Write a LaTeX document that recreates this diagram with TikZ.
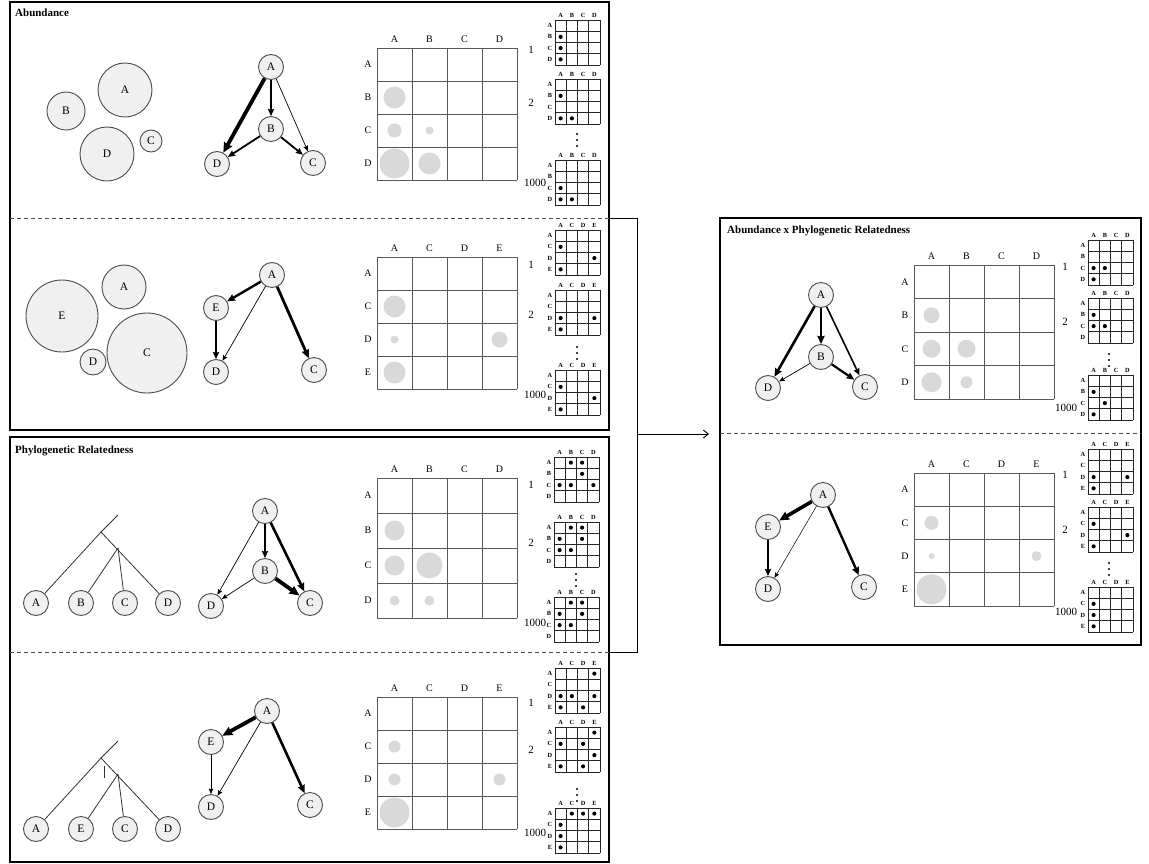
\documentclass[tikz,border=0pt]{standalone}
\usepackage{fontspec}
\setmainfont{Liberation Serif}
\usetikzlibrary{arrows.meta}
\definecolor{nfill}{HTML}{F0F0F0}
\definecolor{ndraw}{HTML}{4D4D4D}
\definecolor{bubc}{HTML}{D9D9D9}
\tikzset{
 gnode/.style={circle,draw=ndraw,fill=nfill,line width=0.9pt,minimum size=25pt,inner sep=0pt,font=\fontsize{11.5}{11.5}\selectfont},
 abn/.style={circle,draw=ndraw,fill=nfill,line width=0.9pt,inner sep=0pt,font=\fontsize{11.5}{11.5}\selectfont},
 tip/.tip={Stealth[length=4.5pt 1.4,width=3.6pt 1.4,inset=0.8pt]},
 ew/.style={-tip,line width=#1},
 frame/.style={line width=1.4pt,draw=black},
 sep/.style={dashed,draw=black!70,line width=0.7pt,dash pattern=on 4pt off 3pt},
 gridl/.style={draw=black!65,line width=0.7pt},
 hdr/.style={font=\fontsize{10}{10}\selectfont,inner sep=0pt},
 shdr/.style={font=\fontsize{6.3}{6.3}\selectfont\bfseries,inner sep=0pt},
 sgrid/.style={draw=black!85,line width=0.7pt},
 ttl/.style={font=\fontsize{11}{11}\selectfont\bfseries,anchor=west,inner sep=0pt},
 numl/.style={font=\fontsize{11}{11}\selectfont,inner sep=0pt},
 tree/.style={draw=black!80,line width=0.8pt},
}
% big matrix: x0, y0, row height, labels, circles col/row/r
\newcommand\bigmat[5]{%
 \foreach \i in {0,...,4}{%
   \draw[gridl] (#1+\i*35,#2) -- (#1+\i*35,#2+4*#3);
   \draw[gridl] (#1,#2+\i*#3) -- (#1+140,#2+\i*#3);}
 \foreach \l [count=\k from 0] in {#4}{%
   \node[hdr] at (#1+17.5+\k*35,#2-9) {\l};
   \node[hdr] at (#1-9,#2+#3/2+\k*#3) {\l};}
 \foreach \c/\r/\rad in {#5}
   \fill[bubc] (#1+17.5+\c*35,#2+#3/2+\r*#3) circle[radius=\rad pt];
}
% small matrix: x0, y0, labels, dots col/row
\newcommand\smallmat[4]{%
 \foreach \i in {0,...,4}{%
   \draw[sgrid] (#1+\i*11.25,#2) -- (#1+\i*11.25,#2+45);
   \draw[sgrid] (#1,#2+\i*11.25) -- (#1+45,#2+\i*11.25);}
 \foreach \l [count=\k from 0] in {#3}{%
   \node[shdr] at (#1+5.6+\k*11.25,#2-4.5) {\l};
   \node[shdr] at (#1-5,#2+5.6+\k*11.25) {\l};}
 \foreach \c/\r in {#4}
   \fill (#1+5.6+\c*11.25,#2+5.6+\r*11.25) circle[radius=2.1pt];
}
\newcommand\vdotsat[2]{%
 \foreach \d in {0,6,12} \fill (#1,#2+\d) circle[radius=1.1pt];}
\begin{document}
\begin{tikzpicture}[x=1pt,y=-1pt]
\useasboundingbox (0,0) rectangle (1149,864);
\fill[white] (0,0) rectangle (1149,864);
% ---------- frames
\draw[frame] (10,2) rectangle (609,430);
\draw[frame] (10,437) rectangle (609,862);
\draw[frame] (720,218) rectangle (1141,645);
\draw[sep] (10,218) -- (609,218);
\draw[sep] (10,652) -- (609,652);
\draw[sep] (720,433) -- (1141,433);
\coordinate (b1) at (609,218);
\coordinate (b2) at (637,218);
\coordinate (b3) at (637,652);
\coordinate (b4) at (609,652);
\coordinate (bm) at (637,434);
\coordinate (bt) at (709,434);
\draw[line width=1pt] (b1) -- (b2) -- (b3) -- (b4);
\draw[line width=0.9pt,-{Straight Barb[length=5pt,width=8pt]}] (bm) -- (bt);
% ---------- titles
\node[ttl] (t1) at (15,13) {Abundance};
\node[ttl] (t2) at (15,451) {Phylogenetic Relatedness};
\node[ttl] (t3) at (727,231) {Abundance x Phylogenetic Relatedness};
% ================= Panel 1
\node[abn,minimum size=54pt] (a1A) at (125,90) {A};
\node[abn,minimum size=38pt] (a1B) at (66,111) {B};
\node[abn,minimum size=54pt] (a1D) at (107,154) {D};
\node[abn,minimum size=22pt] (a1C) at (151,141) {C};
\node[gnode] (p1A) at (271,67) {A};
\node[gnode] (p1B) at (271,129) {B};
\node[gnode] (p1D) at (217,164) {D};
\node[gnode] (p1C) at (313,163) {C};
\draw[ew=3.8pt] (p1A) -- (p1D);
\draw[ew=1.8pt] (p1A) -- (p1B);
\draw[ew=0.7pt] (p1A) -- (p1C);
\draw[ew=1.8pt] (p1B) -- (p1D);
\draw[ew=1.8pt] (p1B) -- (p1C);
\bigmat{377}{48}{33}{A,B,C,D}{0/1/11,0/2/7,1/2/4,0/3/15,1/3/11}
\smallmat{555}{20}{A,B,C,D}{0/1,0/2,0/3}
\smallmat{555}{79}{A,B,C,D}{0/1,0/3,1/3}
\smallmat{555}{160}{A,B,C,D}{0/2,0/3,1/3}
\node[numl] (n11) at (531,50) {1};
\node[numl] (n12) at (531,103) {2};
\node[numl] (n13) at (535,183) {1000};
\vdotsat{577}{134}
% ================= Panel 2
\node[abn,minimum size=44pt] (a2A) at (124,287) {A};
\node[abn,minimum size=72pt] (a2E) at (62,316) {E};
\node[abn,minimum size=26pt] (a2D) at (93,362) {D};
\node[abn,minimum size=80pt] (a2C) at (147,353) {C};
\node[gnode] (p2A) at (272,275) {A};
\node[gnode] (p2E) at (216,308) {E};
\node[gnode] (p2D) at (216,372) {D};
\node[gnode] (p2C) at (314,370) {C};
\draw[ew=2.4pt] (p2A) -- (p2E);
\draw[ew=0.7pt] (p2A) -- (p2D);
\draw[ew=2.8pt] (p2A) -- (p2C);
\draw[ew=1.8pt] (p2E) -- (p2D);
\bigmat{377}{257}{33}{A,C,D,E}{0/1/11,0/2/4,3/2/8,0/3/11}
\smallmat{555}{230}{A,C,D,E}{0/1,3/2,0/3}
\smallmat{555}{290}{A,C,D,E}{0/2,3/2,0/3}
\smallmat{555}{370}{A,C,D,E}{0/1,3/2,0/3}
\node[numl] (n21) at (531,265) {1};
\node[numl] (n22) at (531,315) {2};
\node[numl] (n23) at (535,395) {1000};
\vdotsat{577}{347}
% ================= Panel 3
\node[gnode] (t3A) at (36,603) {A};
\node[gnode] (t3B) at (81,603) {B};
\node[gnode] (t3C) at (125,603) {C};
\node[gnode] (t3D) at (168,603) {D};
\coordinate (r3top) at (118,515);
\coordinate (r3) at (101,532);
\coordinate (r3b) at (118,548);
\draw[tree] (r3top) -- (r3);
\draw[tree] (r3) -- (t3A);
\draw[tree] (r3) -- (t3D);
\draw[tree] (r3b) -- (t3B);
\draw[tree] (r3b) -- (t3C);
\node[gnode] (p3A) at (265,511) {A};
\node[gnode] (p3B) at (265,571) {B};
\node[gnode] (p3D) at (211,606) {D};
\node[gnode] (p3C) at (310,603) {C};
\draw[ew=1.8pt] (p3A) -- (p3B);
\draw[ew=2.6pt] (p3A) -- (p3C);
\draw[ew=0.7pt] (p3A) -- (p3D);
\draw[ew=0.7pt] (p3B) -- (p3D);
\draw[ew=3.8pt] (p3B) -- (p3C);
\bigmat{377}{478}{35}{A,B,C,D}{0/1/10,0/2/10,1/2/13,0/3/5,1/3/5}
\smallmat{554}{457}{A,B,C,D}{1/0,2/0,2/1,0/2,1/2,3/2}
\smallmat{554}{522}{A,B,C,D}{1/0,2/0,0/1,2/1,0/2,1/2}
\smallmat{554}{597}{A,B,C,D}{1/0,2/0,0/1,2/1,0/2,1/2}
\node[numl] (n31) at (531,485) {1};
\node[numl] (n32) at (531,543) {2};
\node[numl] (n33) at (535,623) {1000};
\vdotsat{576}{574}
% ================= Panel 4
\node[gnode] (t4A) at (36,829) {A};
\node[gnode] (t4E) at (81,829) {E};
\node[gnode] (t4C) at (125,829) {C};
\node[gnode] (t4D) at (168,829) {D};
\coordinate (r4top) at (118,741);
\coordinate (r4) at (101,758);
\coordinate (r4b) at (118,774);
\coordinate (k4a) at (104,766);
\coordinate (k4b) at (104,778);
\draw[tree] (r4top) -- (r4);
\draw[tree] (r4) -- (t4A);
\draw[tree] (r4) -- (t4D);
\draw[tree] (r4b) -- (t4E);
\draw[tree] (r4b) -- (t4C);
\draw[tree] (k4a) -- (k4b);
\node[gnode] (p4A) at (267,711) {A};
\node[gnode] (p4E) at (211,742) {E};
\node[gnode] (p4D) at (211,807) {D};
\node[gnode] (p4C) at (310,805) {C};
\draw[ew=3.8pt] (p4A) -- (p4E);
\draw[ew=0.7pt] (p4A) -- (p4D);
\draw[ew=2.6pt] (p4A) -- (p4C);
\draw[ew=0.7pt] (p4E) -- (p4D);
\bigmat{377}{697}{33}{A,C,D,E}{0/1/6,0/2/6,3/2/6,0/3/15}
\smallmat{555}{668}{A,C,D,E}{3/0,0/2,1/2,3/2,0/3,2/3}
\smallmat{555}{727}{A,C,D,E}{3/0,0/1,2/1,3/2,0/3,2/3}
\smallmat{555}{808}{A,C,D,E}{1/0,2/0,3/0,0/1,0/2,0/3}
\node[numl] (n41) at (531,703) {1};
\node[numl] (n42) at (531,750) {2};
\node[numl] (n43) at (535,833) {1000};
\vdotsat{577}{789}
% ================= Panel 5
\node[gnode] (p5A) at (821,295) {A};
\node[gnode] (p5B) at (821,357) {B};
\node[gnode] (p5D) at (768,388) {D};
\node[gnode] (p5C) at (865,387) {C};
\draw[ew=2.6pt] (p5A) -- (p5D);
\draw[ew=2.6pt] (p5A) -- (p5B);
\draw[ew=1.6pt] (p5A) -- (p5C);
\draw[ew=0.7pt] (p5B) -- (p5D);
\draw[ew=2.2pt] (p5B) -- (p5C);
\bigmat{914}{265}{33.5}{A,B,C,D}{0/1/8,0/2/9,1/2/9,0/3/10,1/3/6}
\smallmat{1088}{240}{A,B,C,D}{0/2,1/2,0/3}
\smallmat{1088}{298}{A,B,C,D}{0/1,0/2,1/2}
\smallmat{1088}{375}{A,B,C,D}{0/1,1/2,0/3}
\node[numl] (n51) at (1065,267) {1};
\node[numl] (n52) at (1065,322) {2};
\node[numl] (n53) at (1066,408) {1000};
\vdotsat{1109}{354}
% ================= Panel 6
\node[gnode] (p6A) at (823,495) {A};
\node[gnode] (p6E) at (768,527) {E};
\node[gnode] (p6D) at (768,589) {D};
\node[gnode] (p6C) at (864,587) {C};
\draw[ew=3.6pt] (p6A) -- (p6E);
\draw[ew=0.5pt] (p6A) -- (p6D);
\draw[ew=2.4pt] (p6A) -- (p6C);
\draw[ew=1.8pt] (p6E) -- (p6D);
\bigmat{914}{473}{33.25}{A,C,D,E}{0/1/7,0/2/3,3/2/5,0/3/15}
\smallmat{1088}{449}{A,C,D,E}{0/2,3/2,0/3}
\smallmat{1088}{507}{A,C,D,E}{0/1,3/2,0/3}
\smallmat{1088}{587}{A,C,D,E}{0/1,0/2,0/3}
\node[numl] (n61) at (1065,475) {1};
\node[numl] (n62) at (1065,530) {2};
\node[numl] (n63) at (1066,612) {1000};
\vdotsat{1109}{563}
\end{tikzpicture}
\end{document}
